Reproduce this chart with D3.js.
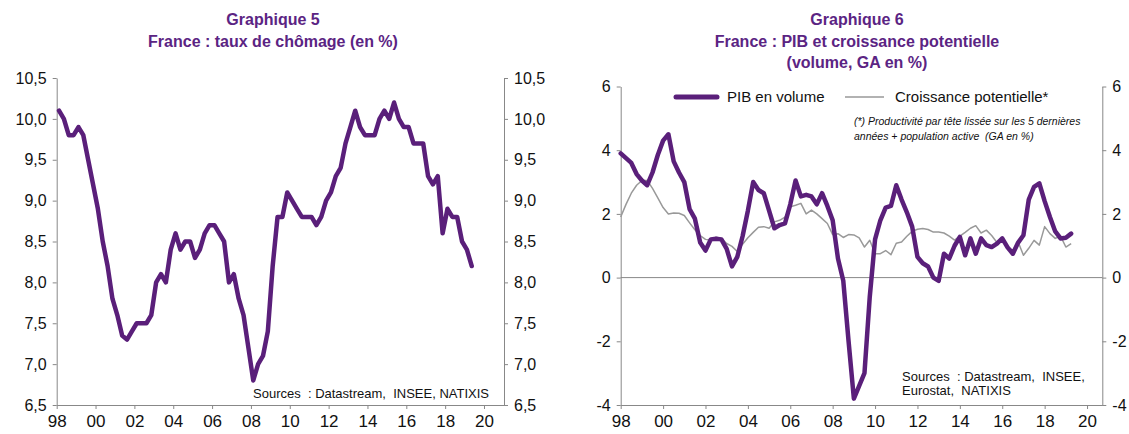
<!DOCTYPE html>
<html><head><meta charset="utf-8">
<script src="https://cdn.jsdelivr.net/npm/d3@7"></script>
<style>body{margin:0;background:#fff}svg{display:block;font-family:"Liberation Sans",Arial,sans-serif}</style>
</head><body><svg id="c" width="1129" height="434"></svg>
<script>
// ---- DATA ----
const startYear = 1998; // quarterly series start 1998Q1
const chomage = [10.1,10.0,9.8,9.8, 9.9,9.8,9.5,9.2, 8.9,8.5,8.2,7.8, 7.6,7.35,7.3,7.4,
  7.5,7.5,7.5,7.6, 8.0,8.1,8.0,8.4, 8.6,8.4,8.5,8.5, 8.3,8.4,8.6,8.7, 8.7,8.6,8.5,8.0,
  8.1,7.8,7.6,7.2, 6.8,7.0,7.1,7.4, 8.2,8.8,8.8,9.1, 9.0,8.9,8.8,8.8, 8.8,8.7,8.8,9.0,
  9.1,9.3,9.4,9.7, 9.9,10.1,9.9,9.8, 9.8,9.8,10.0,10.1, 10.0,10.2,10.0,9.9, 9.9,9.7,9.7,9.7,
  9.3,9.2,9.3,8.6, 8.9,8.8,8.8,8.5, 8.4,8.2];
const pib = [3.9,3.75,3.6,3.25, 3.05,2.9,3.3,3.85, 4.3,4.5,3.65,3.3, 3.0,2.15,1.85,1.1,
  0.85,1.2,1.22,1.2, 0.9,0.35,0.65,1.3, 2.1,3.0,2.75,2.65, 2.1,1.55,1.65,1.7,
  2.3,3.05,2.55,2.6, 2.55,2.3,2.65,2.25, 1.8,0.6,-0.1,-2.0, -3.8,-3.4,-3.0,-0.6,
  1.2,1.8,2.2,2.25, 2.9,2.45,2.05,1.6, 0.65,0.45,0.35,0.0, -0.1,0.75,0.6,1.0,
  1.28,0.7,1.23,0.75, 1.23,1.02,0.96,1.07, 1.23,0.95,0.75,1.1, 1.33,2.45,2.85,2.96,
  2.4,1.9,1.45,1.23, 1.25,1.38];
const potentiel = [1.9,2.3,2.65,2.9, 3.05,3.05,2.8,2.5, 2.2,2.0,2.03,2.02, 1.95,1.72,1.5,1.32,
  1.2,1.17,1.27,1.23, 1.07,0.98,0.82,1.05, 1.25,1.42,1.58,1.6, 1.55,1.75,1.8,1.9,
  2.22,2.27,2.33,2.0, 2.12,2.0,1.85,1.7, 1.35,1.38,1.26,1.35, 1.34,1.25,0.96,1.17,
  0.75,0.75,0.85,0.72, 1.08,1.12,1.3,1.45, 1.52,1.54,1.51,1.43, 1.43,1.4,1.3,1.18,
  1.3,1.42,1.55,1.63, 1.4,1.49,1.32,1.1, 1.15,0.95,0.86,1.12, 0.7,0.92,1.17,1.02,
  1.6,1.38,1.23,1.3, 0.96,1.07];
const yearTicks = [1998,2000,2002,2004,2006,2008,2010,2012,2014,2016,2018,2020];
const yTicks1 = [6.5,7.0,7.5,8.0,8.5,9.0,9.5,10.0,10.5];
const yTicks2 = [-4,-2,0,2,4,6];
const titles1 = ["Graphique 5","France : taux de chômage (en %)"];
const titles2 = ["Graphique 6","France : PIB et croissance potentielle","(volume, GA en %)"];
const legendLabels = ["PIB en volume","Croissance potentielle*"];
const noteLines = ["(*) Productivité par tête lissée sur les 5 dernières","années + population active  (GA en %)"];
const sources1 = ["Sources  : Datastream,  INSEE, NATIXIS"];
const sources2 = ["Sources  : Datastream,  INSEE,","Eurostat,  NATIXIS"];

// ---- STYLE ----
const PURPLE = "#5a1f7a", TITLE = "#5b2483", GRAY = "#888", TXT = "#111";
const svg = d3.select("#c");
const yr2 = d => String(d % 100).padStart(2, "0");
const fr1 = d => d3.format(".1f")(d).replace(".", ",");
const intFmt = d => String(d); // plain hyphen minus like the reference

function styleAxis(g){
  g.selectAll(".domain").attr("stroke", GRAY);
  g.selectAll(".tick line").attr("stroke", GRAY);
  g.selectAll(".tick text").attr("fill", TXT).style("font-size","16px")
    .style("font-family",'"Liberation Sans",Arial,sans-serif');
}

// ---- CHART 1 ----
{
  const x = d3.scaleLinear().domain([1998, 2021.03]).range([56.7, 504]);
  const y = d3.scaleLinear().domain([6.5, 10.5]).range([405, 78]);
  const g = svg.append("g");
  g.append("g").attr("transform","translate(0,405)")
    .call(d3.axisBottom(x).tickValues(yearTicks).tickFormat(yr2).tickSize(4).tickSizeOuter(0).tickPadding(6))
    .call(styleAxis).call(a=>a.selectAll(".tick text").style("font-size","17px"));
  g.append("g").attr("transform","translate(56.7,0)")
    .call(d3.axisLeft(y).tickValues(yTicks1).tickFormat(fr1).tickSize(4).tickSizeOuter(0).tickPadding(6))
    .call(styleAxis);
  g.append("g").attr("transform","translate(504,0)")
    .call(d3.axisRight(y).tickValues(yTicks1).tickFormat(fr1).tickSize(4).tickSizeOuter(0).tickPadding(6))
    .call(styleAxis);
  const line = d3.line().x((d,i)=>x(startYear + i/4 + 0.12)).y(d=>y(d));
  g.append("path").datum(chomage).attr("d", line).attr("fill","none")
    .attr("stroke", PURPLE).attr("stroke-width", 4.5).attr("stroke-linejoin","round").attr("stroke-linecap","round");
  g.selectAll(".t1").data(titles1).join("text").attr("x", 273).attr("y",(d,i)=>25+i*21.5)
    .attr("text-anchor","middle").attr("fill",TITLE).style("font-weight","bold").style("font-size","16px").text(d=>d);
  g.selectAll(".s1").data(sources1).join("text").attr("x", 253).attr("y",398)
    .attr("fill",TXT).style("font-size","13px").style("white-space","pre").text(d=>d);
}

// ---- CHART 2 ----
{
  const x = d3.scaleLinear().domain([1998, 2020.72]).range([620.7, 1102.3]);
  const y = d3.scaleLinear().domain([-4, 6]).range([405, 86.5]);
  const g = svg.append("g");
  g.append("line").attr("x1",x(1998)).attr("x2",x(2020.72)).attr("y1",y(0)).attr("y2",y(0)).attr("stroke",GRAY);
  g.append("g").attr("transform","translate(0,405)")
    .call(d3.axisBottom(x).tickValues(yearTicks).tickFormat(yr2).tickSize(4).tickSizeOuter(0).tickPadding(6))
    .call(styleAxis).call(a=>a.selectAll(".tick text").style("font-size","17px"));
  g.append("g").attr("transform","translate(620.7,0)")
    .call(d3.axisLeft(y).tickValues(yTicks2).tickFormat(intFmt).tickSize(4).tickSizeOuter(0).tickPadding(6))
    .call(styleAxis);
  g.append("g").attr("transform","translate(1102.3,0)")
    .call(d3.axisRight(y).tickValues(yTicks2).tickFormat(intFmt).tickSize(4).tickSizeOuter(0).tickPadding(6))
    .call(styleAxis);
  const line = d3.line().x((d,i)=>x(startYear + i/4)).y(d=>y(d));
  g.append("path").datum(potentiel).attr("d", line).attr("fill","none")
    .attr("stroke", "#999").attr("stroke-width", 1.5).attr("stroke-linejoin","round");
  g.append("path").datum(pib).attr("d", line).attr("fill","none")
    .attr("stroke", PURPLE).attr("stroke-width", 4.5).attr("stroke-linejoin","round").attr("stroke-linecap","round");
  g.selectAll(".t2").data(titles2).join("text").attr("x", 857).attr("y",(d,i)=>25+i*21.5)
    .attr("text-anchor","middle").attr("fill",TITLE).style("font-weight","bold").style("font-size","16px").text(d=>d);
  // legend
  g.append("line").attr("x1",676).attr("x2",717).attr("y1",97).attr("y2",97).attr("stroke",PURPLE).attr("stroke-width",5).attr("stroke-linecap","round");
  g.append("text").attr("x",727).attr("y",102).attr("fill",TXT).style("font-size","15px").text(legendLabels[0]);
  g.append("line").attr("x1",845).attr("x2",884).attr("y1",97).attr("y2",97).attr("stroke","#999").attr("stroke-width",1.5);
  g.append("text").attr("x",895).attr("y",102).attr("fill",TXT).style("font-size","15px").text(legendLabels[1]);
  g.selectAll(".n2").data(noteLines).join("text").attr("x",854).attr("y",(d,i)=>125+i*14.5)
    .attr("fill",TXT).style("font-size","10.5px").style("font-style","italic").style("white-space","pre").text(d=>d);
  g.selectAll(".s2").data(sources2).join("text").attr("x",902).attr("y",(d,i)=>381+i*14)
    .attr("fill",TXT).style("font-size","13px").style("white-space","pre").text(d=>d);
}
</script></body></html>
